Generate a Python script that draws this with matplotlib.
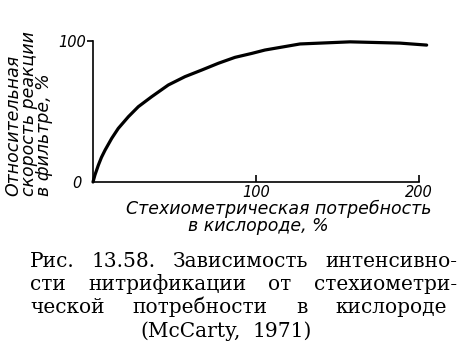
import matplotlib
matplotlib.use('Agg')
import matplotlib.pyplot as plt

# values (stoichiometric O2 demand, % -> relative rate, %)
demand = [0, 1.2, 3.3, 5.2, 7.4, 11.5, 15.5, 21.7, 27.8, 36, 46.2, 56.4, 66.7, 76.9,
          87.1, 97.4, 105.5, 127, 157.7, 188.3, 204.7]
rate = [0, 5, 12, 17.5, 22.6, 31, 38, 46.3, 53.4, 60.5, 68.8, 74.7, 79.4, 84.2,
        88.4, 91.2, 93.6, 97.9, 99.4, 98.5, 97.1]
x_ticks = [100, 200]
x_tick_labels = ['100', '200']
y_ticks = [100]
y_tick_labels = ['100']

xlabel_lines = ['Стехиометрическая потребность', 'в кислороде, %']
ylabel_lines = ['Относительная', 'скорость реакции', 'в фильтре, %']
caption_lines = [
    'Рис. 13.58. Зависимость интенсивно-',
    'сти нитрификации от стехиометри-',
    'ческой потребности в кислороде',
    '(McCarty, 1971)',
]

W, H = 468, 357


def fx(px):
    return px / W


def fy(py):
    return 1 - py / H


fig = plt.figure(figsize=(W / 100, H / 100), dpi=100)
ax = fig.add_axes([fx(93), fy(182), 326 / W, 141 / H])

ax.plot(demand, rate, color='black', lw=2.3, solid_capstyle='round', clip_on=False)
ax.set_xlim(0, 200)
ax.set_ylim(0, 100)

for side in ['top', 'right']:
    ax.spines[side].set_visible(False)
for side in ['left', 'bottom']:
    ax.spines[side].set_linewidth(1.2)

tick_font = dict(family='DejaVu Sans', style='italic', size=10.5)
ax.set_xticks(x_ticks)
ax.set_xticklabels(x_tick_labels, fontdict=tick_font)
ax.tick_params(axis='x', direction='in', length=5, width=1.2, pad=2.5)
ax.set_yticks(y_ticks)
ax.set_yticklabels(y_tick_labels, fontdict=tick_font)
ax.tick_params(axis='y', direction='out', length=4, width=1.2, pad=1)
ax.set_yticks([0], minor=True)
ax.set_yticklabels(['0'], minor=True, fontdict=tick_font)
ax.tick_params(axis='y', which='minor', length=0, pad=8)

label_font = dict(family='DejaVu Sans', style='italic')
fig.text(fx(279), fy(209), xlabel_lines[0], ha='center', va='center', size=12.5, **label_font)
fig.text(fx(258), fy(226), xlabel_lines[1], ha='center', va='center', size=12.5, **label_font)
fig.text(fx(29), fy(196), '\n'.join(ylabel_lines), ha='center', va='bottom', rotation=90,
         multialignment='left', linespacing=0.82, size=12.5, **label_font)

# caption: justified lines, words spread between the margins
cap_font = dict(family='DejaVu Serif', size=14.5)
renderer = fig.canvas.get_renderer()
lefts = [30, 30, 30, 140]
rights = [457, 457, 447, 312]
baselines = [267, 290, 313, 337]
for line, left, right, base in zip(caption_lines, lefts, rights, baselines):
    words = line.split()
    texts = [fig.text(0, fy(base), w, va='baseline', **cap_font) for w in words]
    widths = [t.get_window_extent(renderer).width for t in texts]
    gap = (right - left - sum(widths)) / (len(words) - 1)
    pos = left
    for t, w in zip(texts, widths):
        t.set_x(fx(pos))
        pos += w + gap

fig.savefig('out.png', dpi=100)
